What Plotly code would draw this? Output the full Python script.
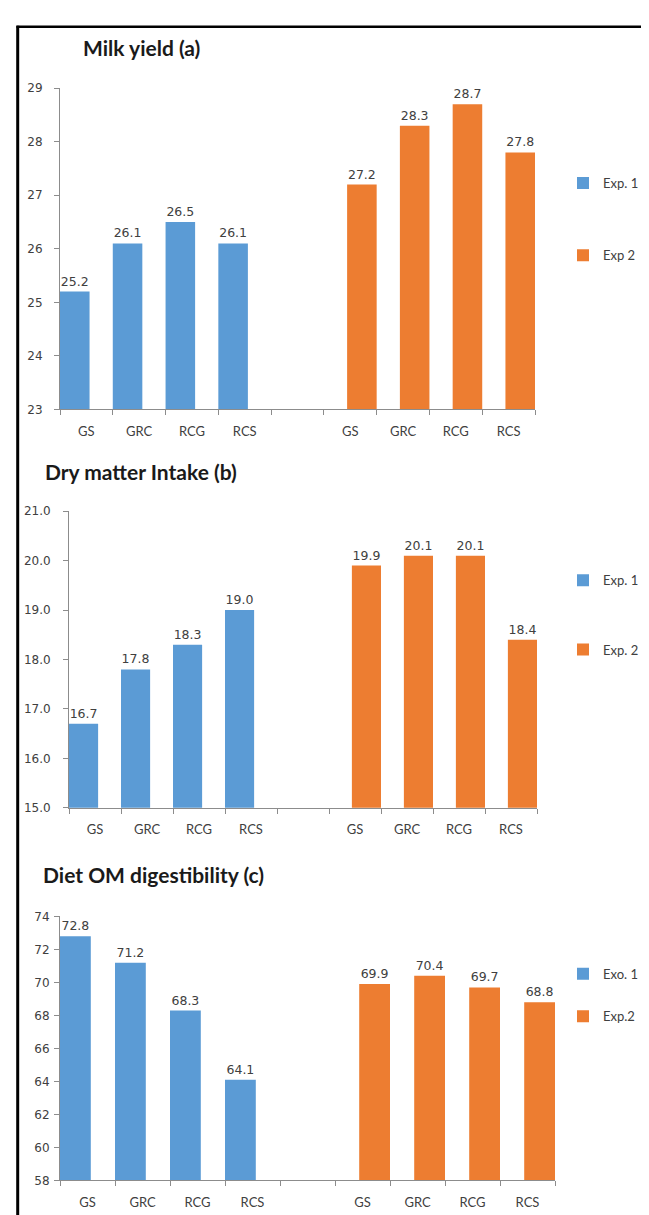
import plotly.graph_objects as go

W, H = 649, 1215

categories = ["GS", "GRC", "RCG", "RCS", "", "GS", "GRC", "RCG", "RCS"]

milk_exp1 = [25.2, 26.1, 26.5, 26.1, None, None, None, None, None]
milk_exp2 = [None, None, None, None, None, 27.2, 28.3, 28.7, 27.8]

dmi_exp1 = [16.7, 17.8, 18.3, 19.0, None, None, None, None, None]
dmi_exp2 = [None, None, None, None, None, 19.9, 20.1, 20.1, 18.4]

om_exp1 = [72.8, 71.2, 68.3, 64.1, None, None, None, None, None]
om_exp2 = [None, None, None, None, None, 69.9, 70.4, 69.7, 68.8]

titles = ["Milk yield (a)", "Dry matter Intake (b)", "Diet OM digestibility (c)"]
legend_names = [("Exp. 1", "Exp 2"), ("Exp. 1", "Exp. 2"), ("Exo. 1", "Exp.2")]

BLUE = "#5B9BD5"
ORANGE = "#ED7D31"
AX = "#8C8C8C"
TXT = "#404040"

xidx = list(range(len(categories)))

def py(px):
    return 1 - px / H

def pxx(px):
    return px / W

# panel geometry in pixels: (x0, x1, ytop, ybottom)
panels = [
    dict(x=(52, 527), y=(74, 399), rng=[23, 29], dtick=1, fmt="d", standoff=9,
         leg=(170, 243), title=(73, 33), e1=milk_exp1, e2=milk_exp2),
    dict(x=(61, 529), y=(502, 802), rng=[15, 21], dtick=1, fmt=".1f", standoff=10,
         leg=(572, 642), title=(35, 462), e1=dmi_exp1, e2=dmi_exp2),
    dict(x=(52, 547), y=(912, 1179), rng=[58, 74], dtick=2, fmt="d", standoff=2,
         leg=(970, 1013), title=(33, 870), e1=om_exp1, e2=om_exp2),
]

fig = go.Figure()
BW = 0.56
layout = {}
annotations = []
for i, p in enumerate(panels):
    n = i + 1
    xa = "x" if n == 1 else f"x{n}"
    ya = "y" if n == 1 else f"y{n}"
    lg1 = f"legend{2*i+1}" if 2*i+1 > 1 else "legend"
    lg2 = f"legend{2*i+2}"
    for vals, name, col, off, lg in [
        (p["e1"], legend_names[i][0], BLUE, -0.5, lg1),
        (p["e2"], legend_names[i][1], ORANGE, 0.5 - BW, lg2),
    ]:
        fig.add_trace(go.Bar(
            x=xidx, y=vals, name=name, marker=dict(color=col, line=dict(width=0)),
            width=BW, offset=off, xaxis=xa, yaxis=ya, legend=lg,
            texttemplate="%{y:.1f}", textposition="outside", cliponaxis=False,
            textfont=dict(family="DejaVu Sans", size=12.5, color=TXT),
        ))
    xkey = "xaxis" if n == 1 else f"xaxis{n}"
    ykey = "yaxis" if n == 1 else f"yaxis{n}"
    layout[xkey] = dict(
        domain=[pxx(p["x"][0]), pxx(p["x"][1])], anchor=ya, type="category",
        tickmode="array", tickvals=xidx, ticktext=categories,
        tickson="boundaries", ticks="outside", ticklen=5, tickcolor=AX,
        showline=True, linecolor=AX, linewidth=1, showgrid=False,
        range=[-0.5, len(categories) - 0.5], ticklabelstandoff=10,
        tickfont=dict(family="Lato", size=13, color=TXT), fixedrange=True,
    )
    layout[ykey] = dict(
        domain=[py(p["y"][1]), py(p["y"][0])], anchor=xa,
        range=p["rng"], dtick=p["dtick"], tick0=p["rng"][0], tickformat=p["fmt"],
        ticks="outside", ticklen=5, tickcolor=AX, showline=True, linecolor=AX,
        linewidth=1, showgrid=False, zeroline=False, ticklabelstandoff=p["standoff"],
        tickfont=dict(family="DejaVu Sans", size=12, color=TXT),
    )
    for k, lg in enumerate([lg1, lg2]):
        layout[lg] = dict(
            x=pxx(555), xanchor="left", y=py(p["leg"][k]), yanchor="middle",
            font=dict(family="Lato", size=13, color=TXT), bgcolor="rgba(0,0,0,0)",
            itemwidth=30,
        )
    annotations.append(dict(
        text=f"<b>{titles[i]}</b>", x=pxx(p["title"][0]), y=py(p["title"][1]),
        xref="paper", yref="paper", xanchor="left", yanchor="middle", showarrow=False,
        font=dict(family="Lato", size=21, color="#1a1a1a"),
    ))

shapes = [
    dict(type="line", xref="paper", yref="paper", x0=pxx(8.5), x1=1, y0=py(12), y1=py(12),
         line=dict(color="black", width=2.5)),
    dict(type="line", xref="paper", yref="paper", x0=pxx(9.7), x1=pxx(9.7), y0=py(11), y1=0,
         line=dict(color="black", width=3)),
]

fig.update_layout(
    width=W, height=H, margin=dict(l=0, r=0, t=0, b=0),
    paper_bgcolor="white", plot_bgcolor="white", barmode="overlay",
    showlegend=True, annotations=annotations, shapes=shapes, **layout,
)

fig.write_html("out.html")
